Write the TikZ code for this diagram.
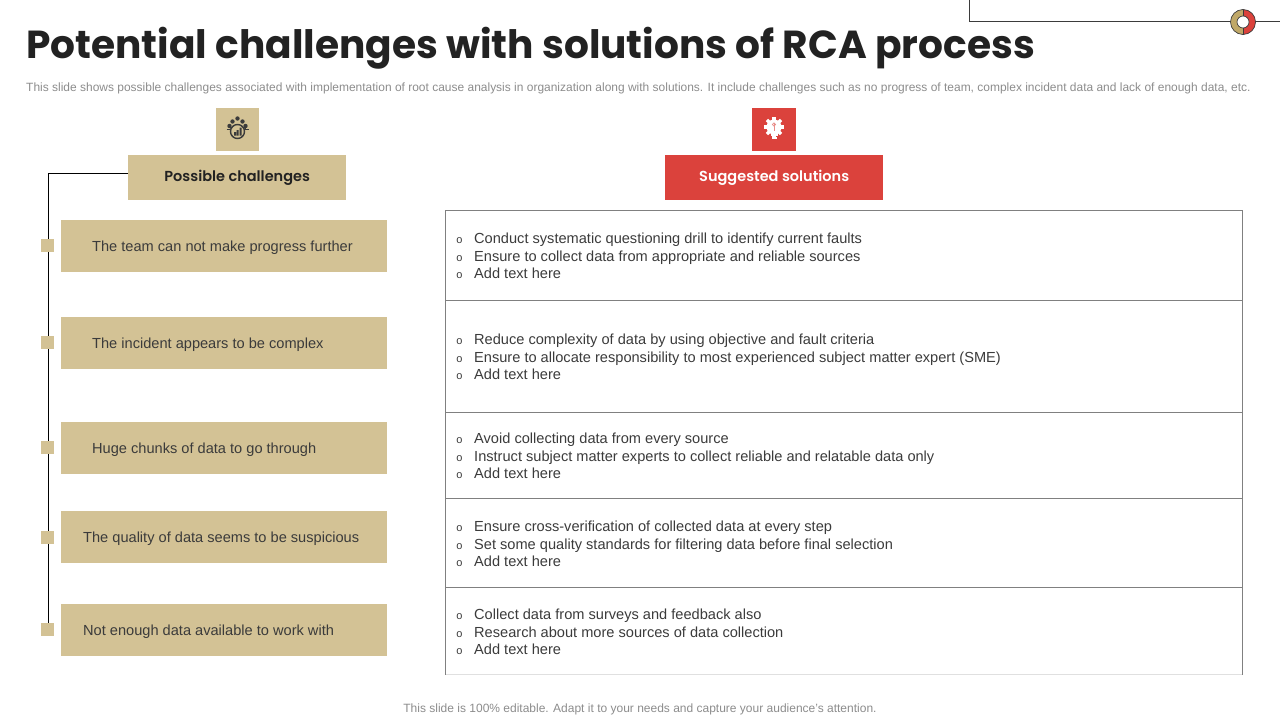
\documentclass[tikz,border=0pt]{standalone}
\usepackage{fontspec}
\setmainfont{Liberation Sans}
\newfontfamily\titlefont{Poppins}[UprightFont=* SemiBold,BoldFont=* Bold]
\definecolor{tan}{HTML}{D3C295}
\definecolor{redb}{HTML}{DB423C}
\definecolor{ink}{HTML}{3B3B3B}
\definecolor{dark}{HTML}{222222}
\definecolor{greyt}{HTML}{8C8C8C}
\definecolor{rule}{HTML}{808080}
\definecolor{ringtan}{HTML}{C0A868}
\tikzset{
  x=1pt,y=-1pt,
  challenge/.style={fill=tan,draw=none,minimum width=326pt,minimum height=52pt,inner sep=0pt,anchor=north west},
  challtext/.style={anchor=west,inner sep=0pt,text height=14pt,text depth=3pt,text=ink,font=\fontsize{14.6}{17}\selectfont},
  marker/.style={fill=tan,draw=none,minimum size=13pt,inner sep=0pt},
  header/.style={draw=none,minimum width=218pt,minimum height=45pt,inner sep=0pt,anchor=north west,font=\fontsize{14.5}{18}\selectfont\titlefont},
  iconbox/.style={draw=none,minimum width=43pt,minimum height=43pt,inner sep=0pt,anchor=north west},
  bullettext/.style={anchor=west,inner sep=0pt,text height=14pt,text depth=3pt,text=ink,font=\fontsize{14.6}{17}\selectfont},
  bulletmark/.style={anchor=center,inner sep=0pt,text=ink,font=\fontsize{11}{12}\selectfont},
  rowrule/.style={draw=rule,line width=1.2pt},
}
\newcommand{\solrow}[5]{%
  \node[bulletmark] (#1ba) at (459.5,#2+2.5) {o};
  \node[bullettext] (#1a) at (474,#2) {#3};
  \node[bulletmark] (#1bb) at (459.5,#2+20.5) {o};
  \node[bullettext] (#1b) at (474,#2+18) {#4};
  \node[bulletmark] (#1bc) at (459.5,#2+37.5) {o};
  \node[bullettext] (#1c) at (474,#2+35) {#5};
}
\begin{document}
\begin{tikzpicture}
\useasboundingbox (0,0) rectangle (1280,720);
% top decoration
\coordinate (tl0) at (969.5,0);
\coordinate (tl1) at (969.5,21.5);
\coordinate (tl2) at (1280,21.5);
\draw[draw=ink,line width=1pt] (tl0) -- (tl1) -- (tl2);
\begin{scope}
  \clip (1225,5) rectangle (1243,40);
  \fill[ringtan] (1243,22) circle[radius=12.5];
\end{scope}
\begin{scope}
  \clip (1243,5) rectangle (1260,40);
  \fill[redb] (1243,22) circle[radius=12.5];
\end{scope}
\fill[white] (1243,22) circle[radius=6];
\draw[ink,line width=.7pt] (1243,22) circle[radius=12.5];
\draw[ink,line width=.7pt] (1243,22) circle[radius=6];
\draw[ink,line width=.9pt] (1243,9.5) -- (1243,16) (1243,28) -- (1243,34.5);
% title
\node[anchor=west,inner sep=0pt,text height=30pt,text depth=9pt,text=dark,font=\fontsize{39.1}{46}\selectfont\titlefont\bfseries] (title) at (26,48) {Potential challenges with solutions of RCA process};
\node[anchor=west,inner sep=0pt,text=greyt,text height=9pt,text depth=3pt,font=\fontsize{11.98}{14}\selectfont] (sub) at (26,88) {This slide shows possible challenges associated with implementation of root cause analysis in organization along with solutions. It include challenges such as no progress of team, complex incident data and lack of enough data, etc.};
% headers
\node[iconbox,fill=tan] (ic1) at (216,108) {};
\node[iconbox,minimum width=44pt,fill=redb] (ic2) at (752,108) {};
\node[header,fill=tan,text=dark] (h1) at (128,155) {Possible challenges};
\node[header,fill=redb,text=white] (h2) at (665,155) {Suggested solutions};
% icon 1
\begin{scope}[shift={(237.5,129.5)}]
  \fill[ink] (0,-11) circle[radius=2.2];
  \fill[ink] (-5,-8) circle[radius=2.2];
  \fill[ink] (5,-8) circle[radius=2.2];
  \fill[ink] (-8,-3.5) circle[radius=2.2];
  \fill[ink] (8,-3.5) circle[radius=2.2];
  \fill[ink] (-8,-3) rectangle (8,0);
  \draw[ink,line width=1pt] (-11,0) -- (-7,0) (7,0) -- (11,0);
  \fill[tan] (0,2) circle[radius=7.5];
  \draw[ink,line width=1.4pt] (0,2) circle[radius=7];
  \fill[ink] (-3.5,2.5) rectangle (-1.5,6) (-.8,0.5) rectangle (1.2,6) (2,-2) rectangle (4,6);
\end{scope}
% icon 2
\begin{scope}[shift={(774,127)}]
  \foreach \a in {0,45,...,315} {\fill[white,rotate=\a] (-1.6,-10) rectangle (1.6,-6);}
  \fill[white] (0,0) circle[radius=7.5];
  \fill[white] (-3.5,5) rectangle (3.5,9);
  \fill[white] (-2.5,9.5) rectangle (2.5,12);
  \draw[redb!60,line width=.8pt] (0,-4) -- (0,4);
  \draw[redb!60,line width=.8pt] (0,-2.5) circle[radius=1.6];
\end{scope}
% challenges
\node[challenge] (c1) at (61,220) {};
\node[challenge] (c2) at (61,317) {};
\node[challenge] (c3) at (61,422) {};
\node[challenge] (c4) at (61,511) {};
\node[challenge] (c5) at (61,604) {};
\node[challtext] (t1) at (92,246) {The team can not make progress further};
\node[challtext] (t2) at (92,343) {The incident appears to be complex};
\node[challtext] (t3) at (92,448) {Huge chunks of data to go through};
\node[challtext] (t4) at (83,537) {The quality of data seems to be suspicious};
\node[challtext] (t5) at (83,630) {Not enough data available to work with};
\coordinate (hj) at (128,173.5);
\coordinate (vb) at (48.5,630);
\draw[black,line width=1pt] (hj) -| (vb);
\node[marker] (m1) at (47.5,245.5) {};
\node[marker] (m2) at (47.5,342.5) {};
\node[marker] (m3) at (47.5,447.5) {};
\node[marker] (m4) at (47.5,537.5) {};
\node[marker] (m5) at (47.5,629.5) {};
% table
\coordinate (tb1) at (445.5,210.5);
\coordinate (tb2) at (1242.5,210.5);
\coordinate (tb3) at (1242.5,674.5);
\coordinate (tb4) at (445.5,674.5);
\draw[draw=black!12,line width=1pt] (tb3) -- (tb4);
\draw[rowrule] (tb4) -- (tb1) -- (tb2) -- (tb3);
\foreach \y in {300.5,412.5,498.5,587.5} {\draw[rowrule] (445.5,\y) -- (1242.5,\y);}
\solrow{r1}{238}{Conduct systematic questioning drill to identify current faults}{Ensure to collect data from appropriate and reliable sources}{Add text here}
\solrow{r2}{339}{Reduce complexity of data by using objective and fault criteria}{Ensure to allocate responsibility to most experienced subject matter expert (SME)}{Add text here}
\solrow{r3}{438}{Avoid collecting data from every source}{Instruct subject matter experts to collect reliable and relatable data only}{Add text here}
\solrow{r4}{526}{Ensure cross-verification of collected data at every step}{Set some quality standards for filtering data before final selection}{Add text here}
\solrow{r5}{614}{Collect data from surveys and feedback also}{Research about more sources of data collection}{Add text here}
% footer
\node[inner sep=0pt,text=greyt,text height=10pt,text depth=3pt,font=\fontsize{12}{14}\selectfont] (foot) at (640,709) {This slide is 100\% editable. Adapt it to your needs and capture your audience's attention.};
\end{tikzpicture}
\end{document}
